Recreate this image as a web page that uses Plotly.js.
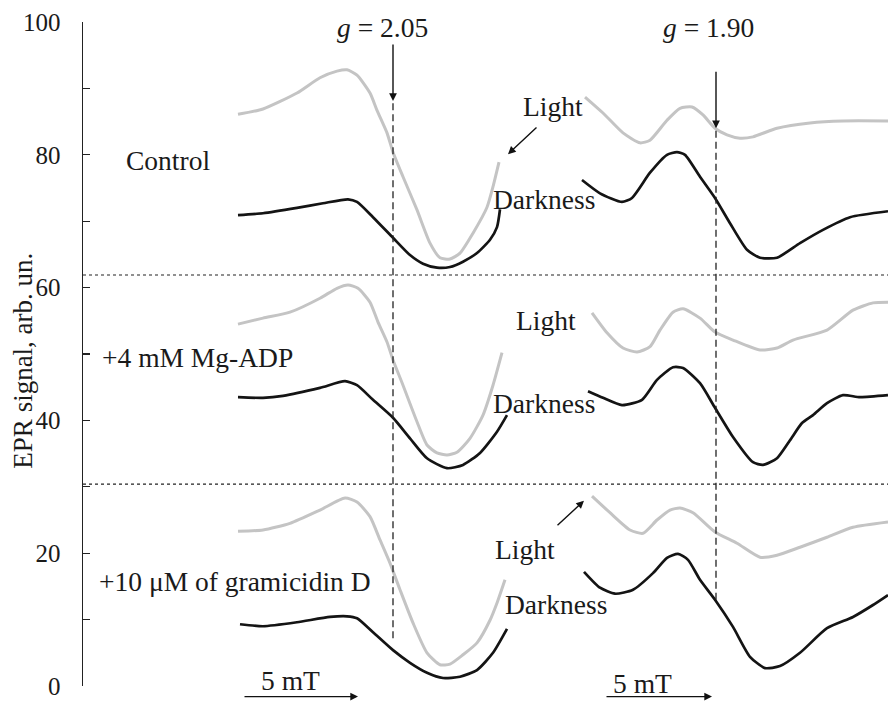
<!DOCTYPE html>
<html>
<head>
<meta charset="utf-8">
<script src="https://cdn.plot.ly/plotly-3.0.1.min.js"></script>
<style>html,body{margin:0;padding:0;background:#fff;}#chart{width:888px;height:703px;}</style>
</head>
<body>
<div id="chart"></div>
<script>
// Field position (arbitrary field units) and EPR signal (arb. un.)
// ---- Control ----
var ctrlLightLx = [238,263,297,320,337,347,357,370,377,387,393,403,417,430,440,450,460,473,487,493,499];
var ctrlLightLy = [86.1,86.9,89.3,91.6,92.6,92.8,92.0,89.3,86.7,83.3,80.4,76.7,71.7,66.7,64.5,64.3,65.2,68.2,72.1,75.2,78.9];
var ctrlDarkLx  = [238,263,297,323,348,357,373,393,410,423,437,450,463,477,490,497,500];
var ctrlDarkLy  = [70.9,71.2,72.0,72.7,73.3,72.9,70.6,67.5,64.9,63.6,63.0,63.1,63.9,65.2,67.2,69.1,71.8];
var ctrlLightRx = [585,603,623,640,650,667,680,692,703,715,727,740,753,777,810,843,888];
var ctrlLightRy = [88.7,86.3,83.3,81.8,82.2,85.2,87.0,87.2,86.0,84.0,83.0,82.5,82.7,84.0,84.8,85.1,85.1];
var ctrlDarkRx  = [582,600,622,632,650,667,677,685,700,715,730,747,760,777,800,823,850,888];
var ctrlDarkRy  = [76.2,74.2,72.9,73.5,77.3,80.0,80.4,80.0,76.7,73.5,69.7,65.7,64.5,64.5,66.7,68.7,70.6,71.5];
// ---- +4 mM Mg-ADP ----
var adpLightLx = [238,263,290,320,337,348,358,370,378,387,393,403,417,427,437,447,457,470,483,493,502];
var adpLightLy = [54.5,55.4,56.3,58.4,59.9,60.4,59.9,57.8,54.8,51.8,49.1,45.3,39.8,36.3,35.1,34.8,35.2,37.3,40.8,45.3,50.2];
var adpDarkLx  = [238,263,283,320,345,357,373,393,410,427,447,463,480,497,507];
var adpDarkLy  = [43.5,43.4,43.7,44.9,45.9,45.3,43.1,40.4,37.3,34.3,32.8,33.3,35.1,38.3,40.8];
var adpLightRx = [592,607,623,637,650,660,673,683,700,715,733,760,777,793,827,853,873,888];
var adpLightRy = [56.2,53.2,50.9,50.3,51.1,53.6,56.3,56.8,55.4,53.3,52.1,50.6,50.9,52.1,53.6,56.6,57.7,57.8];
var adpDarkRx  = [588,603,622,642,657,673,683,700,715,733,753,763,777,790,802,813,827,843,860,888];
var adpDarkRy  = [44.4,43.4,42.3,43.1,46.1,48.0,47.9,45.6,41.9,37.5,33.7,33.3,34.3,37.0,39.6,40.8,42.6,43.8,43.5,43.8];
// ---- +10 uM gramicidin D ----
var gramLightLx = [238,263,290,320,345,357,370,380,390,400,413,427,440,450,463,477,490,497,505];
var gramLightLy = [23.3,23.5,24.5,26.5,28.3,27.7,25.5,22.0,18.5,14.5,9.5,5.0,3.2,3.3,4.7,6.5,9.9,12.5,16.0];
var gramDarkLx  = [240,263,297,330,347,357,373,393,410,427,443,460,477,493,507];
var gramDarkLy  = [9.3,9.0,9.6,10.4,10.5,10.2,8.1,5.4,3.5,2.0,1.2,1.4,2.4,5.0,8.6];
var gramLightRx = [592,610,630,643,657,670,680,693,715,737,760,777,800,827,853,888];
var gramLightRy = [28.6,26.1,23.5,23.0,25.0,26.5,26.8,26.1,23.2,21.5,19.4,19.7,20.9,22.4,23.9,24.7];
var gramDarkRx  = [584,600,615,633,653,667,678,688,700,715,733,750,765,780,800,827,853,873,888];
var gramDarkRy  = [17.2,14.8,13.9,14.5,17.0,19.3,19.9,19.0,16.0,13.0,8.9,4.4,2.7,3.0,5.0,8.7,10.4,12.2,13.7];

// Y axis ticks
var yTickVals = [0,10,20,30,40,50,60,70,80,90,100];
var yTickText = ['0','','20','','40','','60','','80','','100'];

// Reference marks
var sepLevels = [61.9, 30.4];            // dotted horizontal separators
var gLines = [                            // vertical dashed marker lines
  {x: 393, yTop: 88.1, yBot: 7.2, label: '<i>g</i> = 2.05', labelX: 382},
  {x: 716, yTop: 84.0, yBot: 13.0, label: '<i>g</i> = 1.90', labelX: 708}
];

var LIGHT = '#c4c4c4', DARK = '#141414';
function tr(x, y, c, w) {
  return {x: x, y: y, type: 'scatter', mode: 'lines', hoverinfo: 'skip',
          line: {color: c, width: w, shape: 'spline', smoothing: 0.6}, showlegend: false};
}
var data = [
  tr(ctrlLightLx, ctrlLightLy, LIGHT, 3), tr(ctrlDarkLx, ctrlDarkLy, DARK, 2.7),
  tr(ctrlLightRx, ctrlLightRy, LIGHT, 3), tr(ctrlDarkRx, ctrlDarkRy, DARK, 2.7),
  tr(adpLightLx, adpLightLy, LIGHT, 3), tr(adpDarkLx, adpDarkLy, DARK, 2.7),
  tr(adpLightRx, adpLightRy, LIGHT, 3), tr(adpDarkRx, adpDarkRy, DARK, 2.7),
  tr(gramLightLx, gramLightLy, LIGHT, 3), tr(gramDarkLx, gramDarkLy, DARK, 2.7),
  tr(gramLightRx, gramLightRy, LIGHT, 3), tr(gramDarkRx, gramDarkRy, DARK, 2.7)
];

var SERIF = 'Liberation Serif, Times New Roman, serif';
var TXT = {family: SERIF, size: 27.5, color: '#1a1a1a'};

var shapes = [];
sepLevels.forEach(function (v) {
  shapes.push({type: 'line', xref: 'paper', x0: 0, x1: 1, yref: 'y', y0: v, y1: v,
               line: {color: '#222', width: 1.2, dash: '3px,3px'}});
});
gLines.forEach(function (g) {
  shapes.push({type: 'line', xref: 'x', x0: g.x, x1: g.x, yref: 'y', y0: g.yBot, y1: g.yTop,
               line: {color: '#222', width: 1.3, dash: '7px,4px'}});
});

function txt(x, y, t, anchor) {
  return {x: x, y: y, xref: 'x', yref: 'y', text: t, showarrow: false,
          xanchor: anchor || 'center', yanchor: 'middle', font: TXT};
}
function arrow(x, y, axp, ayp, yref) {
  return {x: x, y: y, xref: 'x', yref: yref || 'y', text: '', showarrow: true,
          ax: axp, ay: ayp, axref: 'pixel', ayref: 'pixel',
          arrowhead: 2, arrowsize: 1.1, arrowwidth: 1.4, arrowcolor: '#111', standoff: 0, startstandoff: 0};
}

var annotations = [
  txt(124, 79.2, 'Control', 'left'),
  txt(100, 49.5, '+4 mM Mg-ADP', 'left'),
  txt(97, 15.7, '+10 \u03BCM of gramicidin D', 'left'),
  txt(553, 87.2, 'Light'), txt(544, 73.2, 'Darkness'),
  txt(546, 55.0, 'Light'), txt(544, 42.6, 'Darkness'),
  txt(525, 20.6, 'Light'), txt(556, 12.2, 'Darkness'),
  txt(290, 0.9, '5 mT'), txt(642, 0.45, '5 mT'),
  arrow(508, 80.1, 30, -28),   // Light (control) arrow
  arrow(584, 27.9, -28, 26),   // Light (gramicidin) arrow
  arrow(358, -0.016, -115, 0, 'paper'),
  arrow(712, -0.016, -107, 0, 'paper'),
  // y-axis title
  {x: -60 / 805, y: 0.49, xref: 'paper', yref: 'paper', text: 'EPR signal, arb. un.', showarrow: false,
   textangle: -90, xanchor: 'center', yanchor: 'middle', font: {family: SERIF, size: 27, color: '#1a1a1a'}}
];
gLines.forEach(function (g) {
  annotations.push(txt(g.labelX, 99.1, g.label));
  annotations.push(arrow(g.x, g.yTop, 0, -58));
});

var layout = {
  width: 888, height: 703,
  margin: {l: 83, r: 0, t: 22, b: 17, pad: 0},
  paper_bgcolor: '#fff', plot_bgcolor: '#fff',
  showlegend: false,
  xaxis: {range: [83, 888], visible: false, fixedrange: true},
  yaxis: {range: [0, 100], showline: true, linecolor: '#222', linewidth: 1.5,
          ticks: 'inside', ticklen: 7, tickwidth: 1.3, tickcolor: '#222',
          tickvals: yTickVals, ticktext: yTickText, showgrid: false, zeroline: false,
          tickfont: {family: SERIF, size: 25, color: '#1a1a1a'}, ticklabelstandoff: 16,
          automargin: false, fixedrange: true},
  shapes: shapes,
  annotations: annotations
};
Plotly.newPlot('chart', data, layout, {staticPlot: true, displayModeBar: false});
</script>
</body>
</html>
